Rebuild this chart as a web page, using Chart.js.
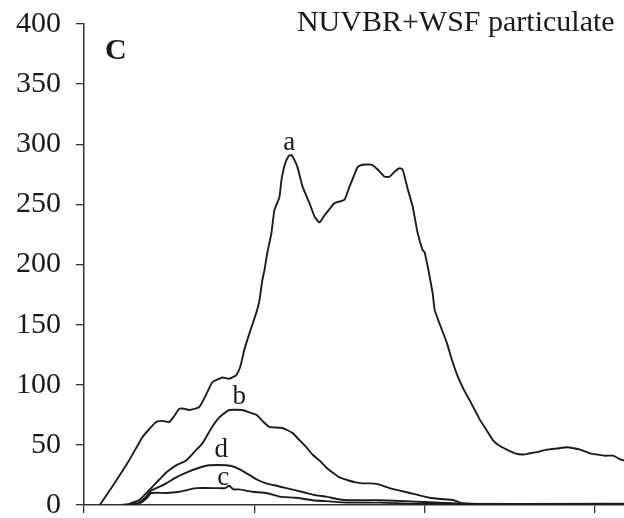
<!DOCTYPE html>
<html>
<head>
<meta charset="utf-8">
<script src="https://cdn.jsdelivr.net/npm/chart.js@4.4.1/dist/chart.umd.min.js"></script>
<style>
html,body{margin:0;padding:0;background:#fff;}
canvas{display:block;}
</style>
</head>
<body>
<canvas id="c" width="624" height="518"></canvas>
<script>
// ---- data (x in axis units, y in intensity) ----
const yTicks = [0, 50, 100, 150, 200, 250, 300, 350, 400];
const xTicks = [0, 20, 40, 60];
const titleText = 'NUVBR+WSF particulate';
const panelLetter = 'C';

const aX = [1.85,3.29,5.29,6.82,7.65,8.47,9.18,10.0,10.6,11.18,11.76,12.35,13.53,14.35,15.06,16.24,17.06,17.88,18.35,18.82,19.53,20.24,20.59,20.94,21.18,21.53,22.0,22.35,22.94,23.18,23.53,24.0,24.35,24.7,25.06,25.65,26.47,27.06,27.65,28.24,28.82,29.41,30.59,31.18,31.65,32.12,32.71,33.76,34.47,35.29,35.88,36.59,37.06,37.41,38.0,38.59,39.18,39.76,40.0,40.94,41.18,42.59,43.18,43.88,44.59,45.29,46.47,47.29,48.0,48.82,49.65,50.59,51.53,52.35,53.18,54.35,55.53,56.71,57.65,58.24,59.41,60.24,61.18,62.12,62.94,63.4];
const aY = [0,15,37,56,63,69,70,69,74,80,80,79,81.5,92,102,106,105,108,115,129,145,160,170,187,195,210,226,245,256,270,282,290,291,287,281,265,251,240,235,241,246,251,254,265,273,281,283,283,279,273,273,278,280,279,263,248,226,212,210,176,162,135,121,107,96,87,71,62,54,49,46,43,42,43,44,46,47,48,47,46,43,42,41,41,38,37];

const bX = [4.47,5.29,6.47,7.18,7.88,8.82,9.65,10.82,12.0,12.94,13.88,14.47,15.06,15.65,16.24,17.06,18.59,19.41,20.24,20.94,21.76,23.29,24.47,25.29,26.12,26.82,27.65,28.47,29.18,30.0,30.82,31.76,32.71,33.76,34.71,35.88,37.06,38.24,39.41,40.59,41.76,43.41,44.12,45.29,47.6,63.4];
const bY = [0,1,4,9,14,21,27,33,37,44,51,58,65,71,75,79,79,77,75,70,65,64,60,54,48,42,37,31,27,23,21,19,18,18,17,14,12,10,8,6,5,4,2,1,0.5,0.5];

const cX = [5.53,6.71,7.41,7.88,9.65,11.18,13.18,15.88,16.59,17.06,17.53,18.24,19.76,21.41,22.94,24.94,26.82,28.82,30.82,34.71,39.4,63.4];
const cY = [0,2,6,10,10,11,14,14,14,16,13,13,11,10,7,6,4,3,2,2,1,1];

const dX = [5.29,6.47,7.18,7.88,8.82,9.65,10.82,12.0,13.53,14.71,16.71,17.88,19.41,20.35,21.41,22.59,23.76,25.0,26.12,27.29,28.47,29.65,30.82,34.71,38.24,41.76,44.12,48.8,63.4];
const dY = [0,2,6,12,15,18,23,27,31,33,33,31,25,21,18,16,14,12,10,8,7,5,4,4,3,2,1,0.5,0.5];

const curveLabels = ['a', 'b', 'c', 'd'];
const curveLabelX = [24.1, 18.24, 16.35, 16.1];
const curveLabelY = [301, 90, 22.5, 46];

// ---- build ----
const toPts = (xs, ys) => xs.map((x, i) => ({x: x, y: ys[i]}));
const lineColor = '#1c1c1c';
const mk = (xs, ys) => ({
  data: toPts(xs, ys),
  borderColor: lineColor,
  borderWidth: 1.9,
  pointRadius: 0,
  fill: false,
  tension: 0.15
});

const serif = '"Liberation Serif", "DejaVu Serif", serif';

const labelPlugin = {
  id: 'labels',
  afterDatasetsDraw(chart) {
    const ctx = chart.ctx;
    const xs = chart.scales.x, ys = chart.scales.y;
    ctx.save();
    ctx.fillStyle = '#1a1a1a';
    ctx.textAlign = 'center';
    ctx.textBaseline = 'middle';
    ctx.font = '27px ' + serif;
    curveLabels.forEach((t, i) => {
      ctx.fillText(t, xs.getPixelForValue(curveLabelX[i]), ys.getPixelForValue(curveLabelY[i]));
    });
    ctx.font = 'bold 30px ' + serif;
    ctx.fillText(panelLetter, xs.getPixelForValue(3.75), ys.getPixelForValue(377));
    ctx.font = '30px ' + serif;
    ctx.textAlign = 'right';
    ctx.fillText(titleText, xs.getPixelForValue(62.3), ys.getPixelForValue(401));
    ctx.restore();
  }
};

new Chart(document.getElementById('c'), {
  type: 'line',
  data: {
    datasets: [mk(aX, aY), mk(bX, bY), mk(cX, cY), mk(dX, dY)]
  },
  options: {
    responsive: false,
    animation: false,
    devicePixelRatio: 1,
    layout: {padding: {top: 24, right: 0, bottom: 0, left: 0}},
    plugins: {legend: {display: false}, tooltip: {enabled: false}, title: {display: false}},
    scales: {
      x: {
        type: 'linear',
        min: 0,
        max: 63.4,
        afterBuildTicks: s => { s.ticks = xTicks.map(v => ({value: v})); },
        afterFit: s => { s.height = 13; s.paddingLeft = 0; s.paddingRight = 0; },
        ticks: {display: false},
        grid: {drawOnChartArea: false, drawTicks: true, tickLength: 8, color: '#333', lineWidth: 1.3},
        border: {display: true, color: '#333', width: 1.5}
      },
      y: {
        type: 'linear',
        min: 0,
        max: 400,
        afterBuildTicks: s => { s.ticks = yTicks.map(v => ({value: v})); },
        afterFit: s => { s.width = 84; s.paddingTop = 0; s.paddingBottom = 0; },
        ticks: {
          padding: 15,
          color: '#1a1a1a',
          font: {family: serif, size: 30}
        },
        grid: {drawOnChartArea: false, drawTicks: true, tickLength: 8, color: '#333', lineWidth: 1.3},
        border: {display: true, color: '#333', width: 1.5}
      }
    }
  },
  plugins: [labelPlugin]
});
</script>
</body>
</html>
